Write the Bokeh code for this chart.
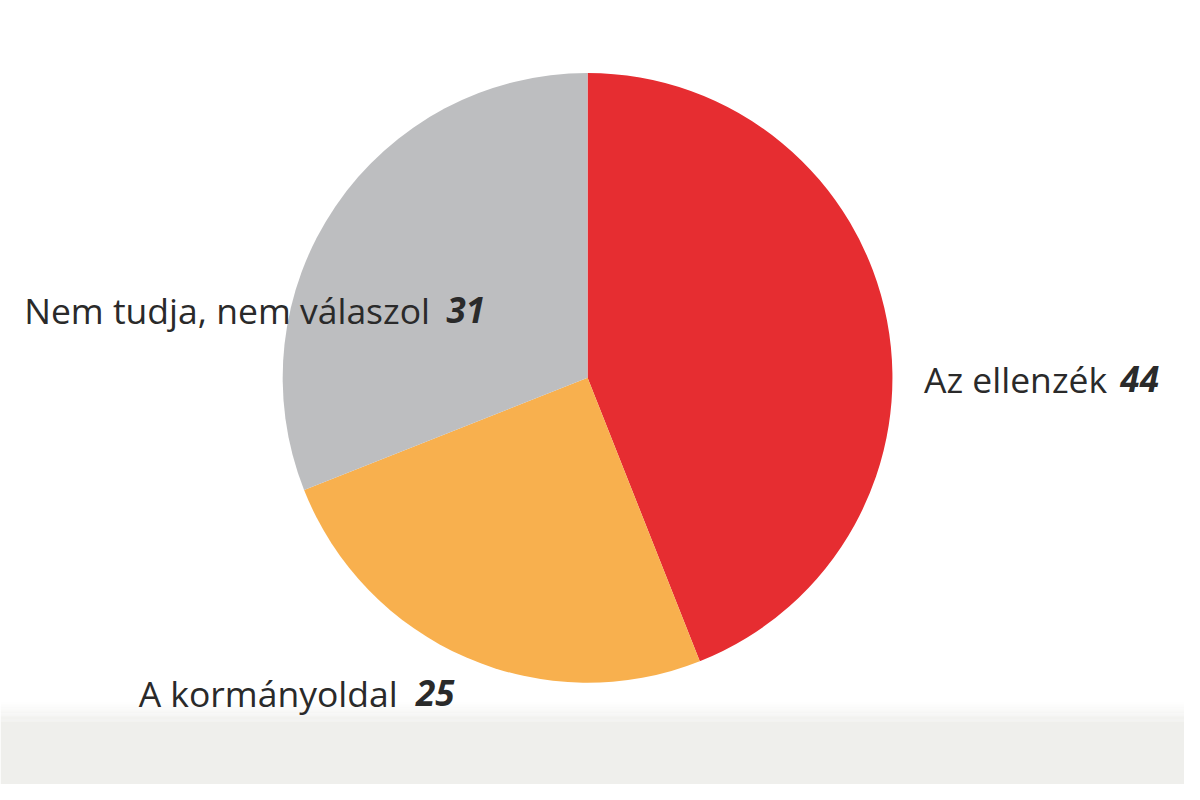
import numpy as np
from bokeh.plotting import figure
from bokeh.models import ColumnDataSource
from bokeh.core.properties import value
from bokeh.embed import file_html
from bokeh.resources import INLINE

# Data
categories = ["Az ellenzék", "A kormányoldal", "Nem tudja, nem válaszol"]
values = [44, 25, 31]
colors = ["#e62d31", "#f8b04e", "#bdbec0"]
number_labels = ["44", "25", "31"]

W, H = 1184, 784
RW, RH = 1200, 800  # reference canvas units
p = figure(width=W, height=H, x_range=(0, RW), y_range=(0, RH),
           output_backend="svg", toolbar_location=None, min_border=0)
p.axis.visible = False
p.grid.visible = False
p.outline_line_color = None
p.background_fill_color = "white"
p.border_fill_color = "white"

def sy(y):  # reference screen y -> data y
    return RH - y

# bottom band with soft gradient
band_top = 736
p.quad(left=0, right=RW, bottom=0, top=sy(band_top), fill_color="#efefec", line_color=None)
steps = 16
g0 = 716
for i in range(steps):
    t = (i + 0.5) / steps
    y0 = g0 + i * (band_top - g0) / steps
    y1 = g0 + (i + 1) * (band_top - g0) / steps
    c = int(round(255 - (255 - 239) * t))
    c2 = int(round(255 - (255 - 236) * t))
    p.quad(left=0, right=RW, bottom=sy(y1), top=sy(y0),
           fill_color=(c, c, c2), line_color=None)

# Pie: start at top, clockwise
total = sum(values)
fr = np.array(values) / total
cum = np.concatenate([[0], np.cumsum(fr)])
start = np.pi / 2 - 2 * np.pi * cum[1:]
end = np.pi / 2 - 2 * np.pi * cum[:-1]
src = ColumnDataSource(dict(start=start, end=end, color=colors,
                            cat=categories, val=values))
cx, cy, r = 595, sy(385), 309
p.wedge(x=cx, y=cy, radius=r, start_angle="start", end_angle="end",
        fill_color="color", line_color=None, source=src)

# Labels: plain text + bold italic number
font = value("Open Sans")
text_x = [936, 140, 24]
num_x = [1135, 421, 452]
base_y = [386, 707, 316]
for txt, num, tx, nx, by in zip(categories, number_labels, text_x, num_x, base_y):
    p.text(x=[tx], y=[sy(by)], text=[txt], text_font=font,
           text_font_size="35.5px", text_color="#2a2a2a",
           text_baseline="alphabetic", text_align="left")
    p.text(x=[nx], y=[sy(by)], text=[num], text_font=font,
           text_font_size="35px", text_font_style="bold italic",
           text_color="#2a2a2a", text_baseline="alphabetic", text_align="left")

open("out.html", "w").write(file_html(p, INLINE))
